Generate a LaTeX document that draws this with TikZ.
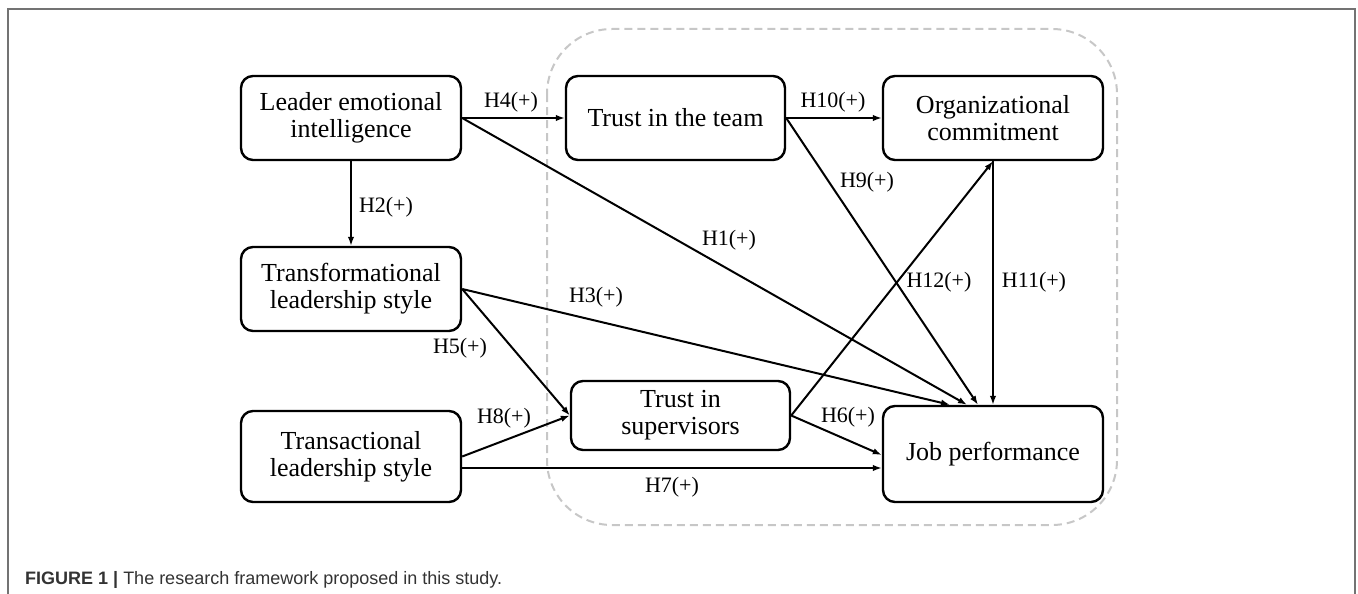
\documentclass[tikz,border=0pt]{standalone}
\usepackage{fontspec}
\setmainfont{Liberation Serif}
\newfontfamily\capfont{Liberation Sans}
\usetikzlibrary{arrows.meta}
\begin{document}
\begin{tikzpicture}[x=1pt,y=-1pt,
  box/.style={draw=black, line width=2.4pt, rounded corners=12pt, align=center,
    inner sep=0pt, minimum width=220pt, minimum height=84pt,
    font=\fontsize{26}{27}\selectfont},
  arr/.style={line width=2pt, -{Latex[length=9pt,width=6.5pt]}},
  lbl/.style={font=\fontsize{22}{24}\selectfont, inner sep=0pt},
  groupframe/.style={draw=black!22, line width=2pt, dash pattern=on 8pt off 5pt, rounded corners=65pt},
  outerframe/.style={draw=black!55, line width=1.4pt}]
\useasboundingbox (0,0) rectangle (1358,594);

% outer frame (open at the bottom)
\draw[outerframe] (8,594) -- (8,9) -- (1355,9) -- (1355,594);

% dashed group frame
\draw[groupframe] (547,29) rectangle (1117,525);

% nodes
\node[box] (lei)   at (351,118)   {Leader emotional\\intelligence};
\node[box] (trans) at (351,289)   {Transformational\\leadership style};
\node[box, minimum height=91pt] (tact) at (351,456.5) {Transactional\\leadership style};
\node[box, minimum width=219pt] (team) at (675.5,118) {Trust in the team};
\node[box] (org)   at (993,118)   {Organizational\\commitment};
\node[box, minimum width=219pt, minimum height=69pt] (ts) at (680.5,415.5) {Trust in\\supervisors};
\node[box, minimum height=96pt] (jp) at (993,454) {Job performance};

% connectors
\draw[arr] (lei.east) -- (team.west) node[lbl] (l4) at (511,102) {H4(+)};
\draw[arr] (lei.south) -- (trans.north) node[lbl] (l2) at (386,207) {H2(+)};
\draw[arr] (team.east) -- (org.west) node[lbl] (l10) at (833,102) {H10(+)};
\draw[arr] (lei.east) -- ([xshift=-26pt]jp.north) node[lbl] (l1) at (729,240) {H1(+)};
\draw[arr] (team.east) -- ([xshift=-15pt]jp.north) node[lbl] (l9) at (867,182) {H9(+)};
\draw[arr] (org.south) -- (jp.north) node[lbl] (l11) at (1034,282) {H11(+)};
\draw[arr] (ts.east) -- (org.south) node[lbl] (l12) at (939,282) {H12(+)};
\draw[arr] (trans.east) -- ([xshift=-43pt]jp.north) node[lbl] (l3) at (596,297) {H3(+)};
\draw[arr] (trans.east) -- (ts.west) node[lbl] (l5) at (460,348) {H5(+)};
\draw[arr] (tact.east) -- (ts.west) node[lbl] (l8) at (504,418) {H8(+)};
\draw[arr] (ts.east) -- ([yshift=-1pt]jp.west) node[lbl] (l6) at (848,417) {H6(+)};
\coordinate (h7s) at ([yshift=-11.5pt]tact.east);
\draw[arr] (h7s) -- (h7s -| jp.west) node[lbl] (l7) at (672,487) {H7(+)};

% caption
\node[anchor=base west, inner sep=0pt, font=\capfont\fontsize{18}{20}\selectfont, text=black!80] (cap) at (25,584)
  {\textbf{FIGURE 1 |} The research framework proposed in this study.};
\end{tikzpicture}
\end{document}
